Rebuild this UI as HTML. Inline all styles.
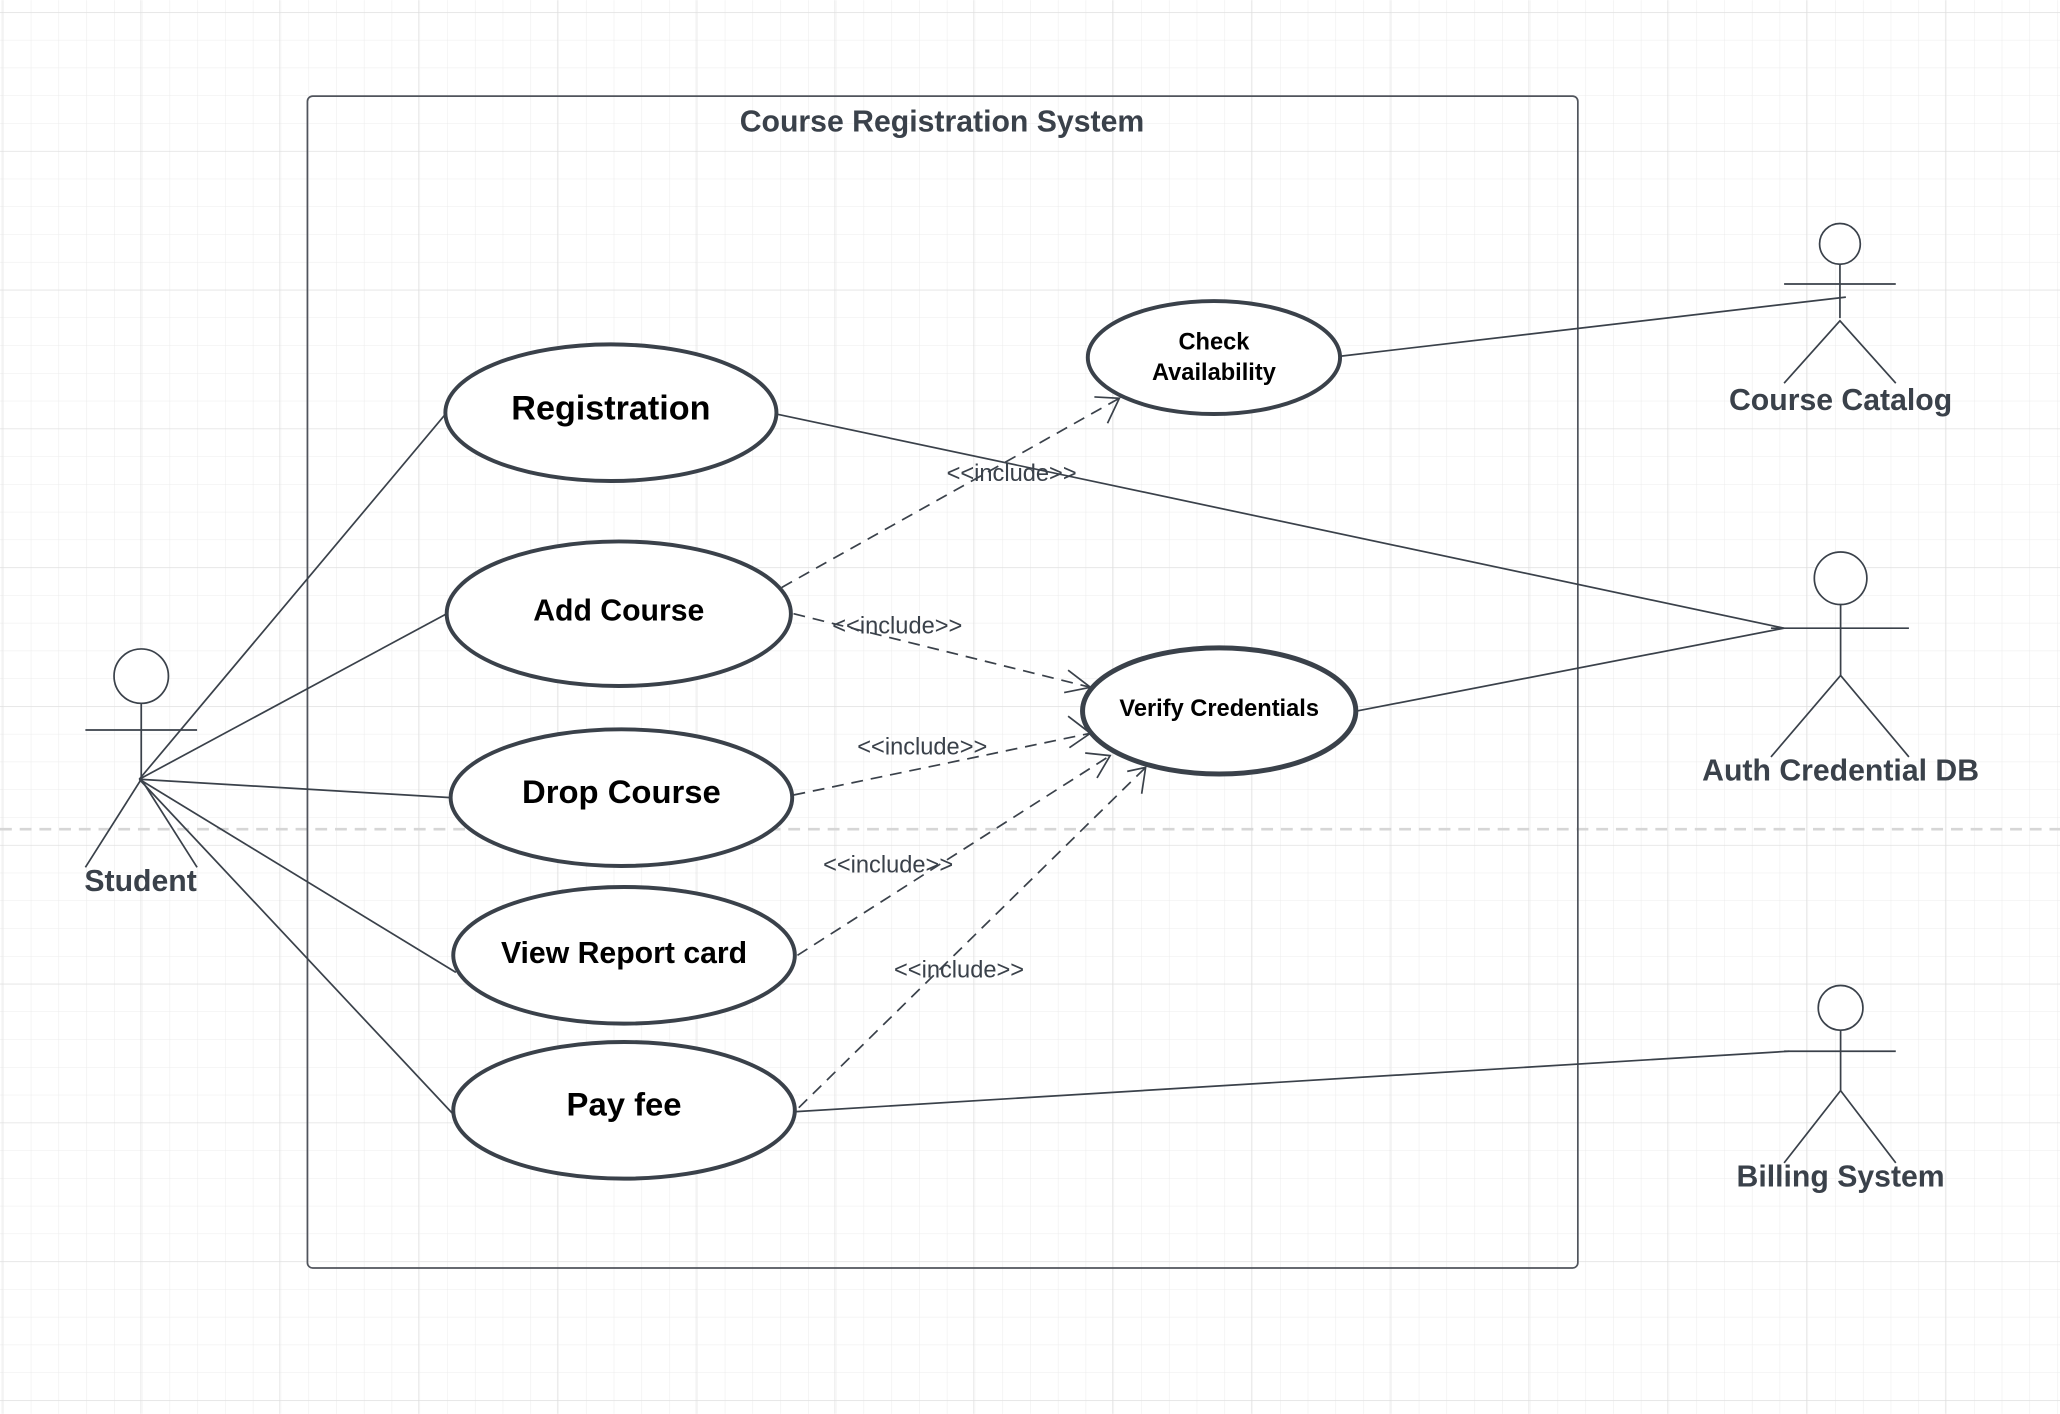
<!DOCTYPE html>
<html><head><meta charset="utf-8"><style>
html,body{margin:0;padding:0;background:#fff;}
svg{display:block;}
text{font-family:"Liberation Sans",Arial,sans-serif;}
</style></head><body>
<svg width="2060" height="1414" viewBox="0 0 1568 1076" xmlns="http://www.w3.org/2000/svg">
<defs>
<pattern id="minor" x="2.3" y="9.1" width="21.13" height="21.13" patternUnits="userSpaceOnUse">
<path d="M0 0H21.13M0 0V21.13" stroke="#ececec" stroke-width="0.8" fill="none"/>
</pattern>
<pattern id="major" x="107" y="9.1" width="105.65" height="105.65" patternUnits="userSpaceOnUse">
<path d="M0 0H105.65M0 0V105.65" stroke="#dedede" stroke-width="0.9" fill="none"/>
</pattern>
</defs>
<rect width="1568" height="1076" fill="#fff"/>
<rect width="1568" height="1076" fill="url(#minor)"/>
<rect width="1568" height="1076" fill="url(#major)"/>
<line x1="0" y1="631" x2="1568" y2="631" stroke="#d6d6d6" stroke-width="2" stroke-dasharray="9,6"/>

<rect x="234" y="73" width="967" height="892" rx="4" fill="none" stroke="#50545c" stroke-width="1.3"/>
<text x="717" y="100" text-anchor="middle" font-size="23" font-weight="bold" fill="#3a414a">Course Registration System</text>

<g stroke="#3a414a" stroke-width="1.3" fill="none">
<line x1="106" y1="593" x2="340" y2="314"/>
<line x1="106" y1="593" x2="340" y2="467"/>
<line x1="106" y1="593" x2="343" y2="607"/>
<line x1="106" y1="593" x2="347" y2="740"/>
<line x1="106" y1="593" x2="345" y2="848"/>
<line x1="591" y1="315" x2="1358" y2="478"/>
<line x1="1020" y1="271" x2="1405" y2="226"/>
<line x1="1033" y1="541" x2="1358" y2="478"/>
<line x1="606" y1="846" x2="1362" y2="800"/>
</g>

<g stroke="#3a414a" stroke-width="1.3" fill="none" stroke-dasharray="9,6">
<line x1="595" y1="447" x2="852" y2="303"/>
<line x1="604" y1="467" x2="830" y2="523"/>
<line x1="604" y1="605" x2="830" y2="558"/>
<line x1="607" y1="727" x2="845" y2="575"/>
<line x1="608" y1="843" x2="872" y2="584"/>
</g>
<g stroke="#3a414a" stroke-width="1.3" fill="none">
<polyline points="833,302 852,303 843,322"/>
<polyline points="813,510 830,523 810,527"/>
<polyline points="813,545 830,558 814,569"/>
<polyline points="826,573 845,575 835,592"/>
<polyline points="858,587 872,584 869,604"/>
</g>
<g font-size="18" fill="#3a414a" text-anchor="middle">
<text x="770" y="366">&lt;&lt;include&gt;&gt;</text>
<text x="683" y="482">&lt;&lt;include&gt;&gt;</text>
<text x="702" y="574">&lt;&lt;include&gt;&gt;</text>
<text x="676" y="664">&lt;&lt;include&gt;&gt;</text>
<text x="730" y="744">&lt;&lt;include&gt;&gt;</text>
</g>

<g stroke="#3a414a" stroke-width="3" fill="#fff">
<ellipse cx="465" cy="314" rx="126" ry="52"/>
<ellipse cx="471" cy="467" rx="131" ry="55"/>
<ellipse cx="473" cy="607" rx="130" ry="52"/>
<ellipse cx="475" cy="727" rx="130" ry="52"/>
<ellipse cx="475" cy="845" rx="130" ry="52"/>
<ellipse cx="924" cy="272" rx="96" ry="43"/>
<ellipse cx="928" cy="541" rx="104" ry="48" stroke-width="3.8"/>
</g>
<g font-weight="bold" fill="#000" text-anchor="middle">
<text x="465" y="319" font-size="26">Registration</text>
<text x="471" y="472" font-size="23">Add Course</text>
<text x="473" y="611" font-size="25">Drop Course</text>
<text x="475" y="733" font-size="23">View Report card</text>
<text x="475" y="849" font-size="25">Pay fee</text>
<text x="924" y="266" font-size="18">Check</text>
<text x="924" y="289" font-size="18">Availability</text>
<text x="928" y="545" font-size="18">Verify Credentials</text>
</g>

<g stroke="#3a414a" stroke-width="1.3" fill="#fff">
<circle cx="107.5" cy="514.5" r="20.7"/>
<line x1="107.5" y1="535" x2="107.5" y2="593"/>
<line x1="65" y1="555.5" x2="150" y2="555.5"/>
<polyline points="65,660 107.5,593 150,660" fill="none"/>

<circle cx="1400.5" cy="185.5" r="15.5"/>
<line x1="1400.5" y1="201" x2="1400.5" y2="242"/>
<line x1="1358" y1="216" x2="1443" y2="216"/>
<polyline points="1358,291.5 1400.5,244 1443,291.5" fill="none"/>

<circle cx="1401" cy="440" r="20"/>
<line x1="1401" y1="460" x2="1401" y2="514"/>
<line x1="1348" y1="478" x2="1453" y2="478"/>
<polyline points="1348,576 1401,514 1453,576" fill="none"/>

<circle cx="1401" cy="767" r="17"/>
<line x1="1401" y1="784" x2="1401" y2="830"/>
<line x1="1358" y1="800" x2="1443" y2="800"/>
<polyline points="1358,885 1401,830 1443,885" fill="none"/>
</g>
<g font-weight="bold" fill="#3a414a" text-anchor="middle" font-size="23">
<text x="107" y="678">Student</text>
<text x="1401" y="312">Course Catalog</text>
<text x="1401" y="594">Auth Credential DB</text>
<text x="1401" y="903">Billing System</text>
</g>
</svg>
</body></html>
